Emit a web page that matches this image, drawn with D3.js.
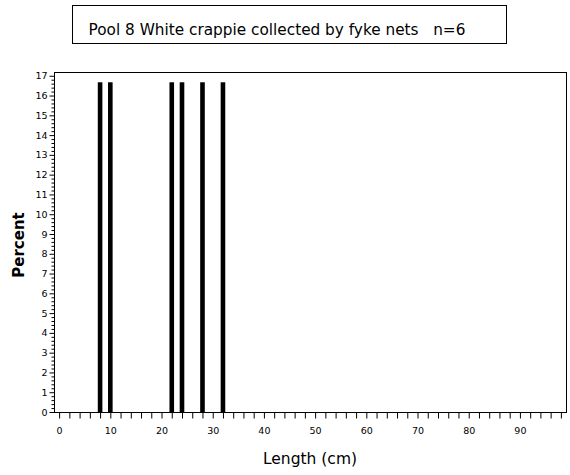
<!DOCTYPE html>
<html>
<head>
<meta charset="utf-8">
<script src="https://cdn.jsdelivr.net/npm/d3@7"></script>
<style>
  body { margin: 0; background: #fff; }
  text { font-family: "DejaVu Sans", sans-serif; fill: #000; }
</style>
</head>
<body>
<svg></svg>
<script>
const width = 570;
const height = 475;

// -----------------------------
// DATA
// -----------------------------
const lengths = [8, 10, 22, 24, 28, 32];
const percents = [16.67, 16.67, 16.67, 16.67, 16.67, 16.67];
const xTickLabels = [0, 10, 20, 30, 40, 50, 60, 70, 80, 90];
const yTickLabels = d3.range(0, 18);
const titleText = "Pool 8 White crappie collected by fyke nets   n=6";

const svg = d3.select("svg")
  .attr("width", width)
  .attr("height", height);

const plot = { left: 54, right: 566, top: 72, bottom: 412 };

const x = d3.scaleLinear().domain([-1, 99]).range([plot.left, plot.right]);
const y = d3.scaleLinear().domain([0, 17.19]).range([plot.bottom, plot.top]);

// -----------------------------
// TITLE
// -----------------------------
svg.append("rect")
  .attr("x", 72.5).attr("y", 5.5)
  .attr("width", 434).attr("height", 38)
  .attr("fill", "none").attr("stroke", "#000");

svg.append("text")
  .attr("x", 277).attr("y", 35)
  .attr("text-anchor", "middle")
  .attr("font-size", 15.3)
  .style("white-space", "pre")
  .text(titleText);

// -----------------------------
// FRAME
// -----------------------------
svg.append("rect")
  .attr("x", plot.left + 0.5).attr("y", plot.top + 0.5)
  .attr("width", plot.right - plot.left).attr("height", plot.bottom - plot.top)
  .attr("fill", "none").attr("stroke", "#000");

// -----------------------------
// BARS
// -----------------------------
svg.append("g")
  .selectAll("rect")
  .data(lengths)
  .join("rect")
  .attr("x", d => x(d) - 2.3)
  .attr("width", 4.6)
  .attr("y", (d, i) => y(percents[i]))
  .attr("height", (d, i) => y(0) - y(percents[i]))
  .attr("fill", "#000");

// -----------------------------
// X AXIS
// -----------------------------
const xAxis = svg.append("g")
  .attr("transform", `translate(0,${plot.bottom + 0.5})`)
  .call(d3.axisBottom(x)
    .tickValues(d3.range(0, 99, 2))
    .tickSize(6)
    .tickSizeOuter(0)
    .tickFormat(d => xTickLabels.includes(d) ? d : ""));

xAxis.select(".domain").remove();
xAxis.selectAll("line").attr("stroke", "#000");
xAxis.selectAll("text")
  .attr("font-family", "DejaVu Sans, sans-serif")
  .attr("font-size", 9.5)
  .attr("dy", "0.71em")
  .attr("y", 15);

// -----------------------------
// Y AXIS
// -----------------------------
const yMinor = svg.append("g")
  .attr("transform", `translate(${plot.left + 0.5},0)`)
  .call(d3.axisLeft(y)
    .tickValues(d3.range(0, 17.01, 0.2).filter(v => Math.abs(v - Math.round(v)) > 0.01))
    .tickSize(3)
    .tickFormat(""));
yMinor.select(".domain").remove();
yMinor.selectAll("line").attr("stroke", "#000");

const yAxis = svg.append("g")
  .attr("transform", `translate(${plot.left + 0.5},0)`)
  .call(d3.axisLeft(y)
    .tickValues(yTickLabels)
    .tickSize(5)
    .tickPadding(2));
yAxis.select(".domain").remove();
yAxis.selectAll("line").attr("stroke", "#000");
yAxis.selectAll("text")
  .attr("font-family", "DejaVu Sans, sans-serif")
  .attr("font-size", 9.5);

// -----------------------------
// AXIS LABELS
// -----------------------------
svg.append("text")
  .attr("x", 310).attr("y", 464)
  .attr("text-anchor", "middle")
  .attr("font-size", 15.5)
  .text("Length (cm)");

svg.append("text")
  .attr("transform", "translate(24,245) rotate(-90)")
  .attr("text-anchor", "middle")
  .attr("font-size", 15)
  .attr("font-weight", "bold")
  .text("Percent");
</script>
</body>
</html>
